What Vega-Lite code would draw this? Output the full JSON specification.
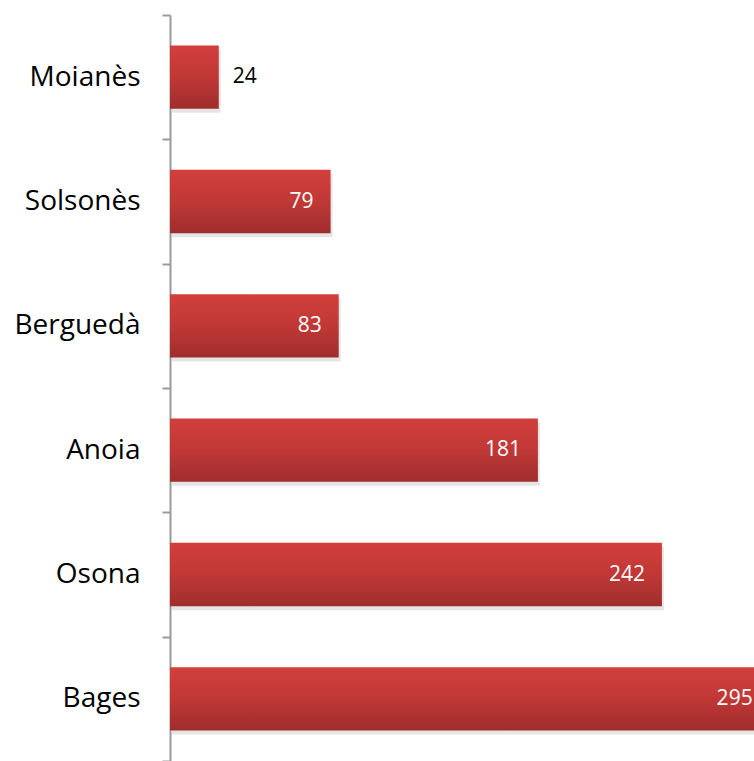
{
  "$schema": "https://vega.github.io/schema/vega-lite/v6.json",
  "autosize": "none",
  "padding": {"left": 170, "top": 15, "right": 0, "bottom": 0},
  "width": 584,
  "height": 746,
  "background": "white",
  "data": {"values": [
    {"comarca": "Moianès", "valor": 24},
    {"comarca": "Solsonès", "valor": 79},
    {"comarca": "Berguedà", "valor": 83},
    {"comarca": "Anoia", "valor": 181},
    {"comarca": "Osona", "valor": 242},
    {"comarca": "Bages", "valor": 295}
  ]},
  "encoding": {
    "y": {"field": "comarca", "type": "nominal", "sort": null,
      "scale": {"paddingInner": 0, "paddingOuter": 0},
      "axis": {"title": null, "tickBand": "extent", "domainColor": "#9a9a9a", "domainWidth": 2,
        "tickColor": "#9a9a9a", "tickWidth": 2, "tickSize": 8, "labelFont": "Open Sans", "labelFontSize": 28,
        "labelColor": "#000000", "labelPadding": 22}},
    "x": {"field": "valor", "type": "quantitative",
      "scale": {"domain": [0, 287.3], "nice": false, "zero": true},
      "axis": null}
  },
  "layer": [
    {"mark": {"type": "bar", "clip": true, "height": {"band": 0.51}, "color": "#000000", "opacity": 0.1, "xOffset": 2, "yOffset": 4}},
    {"mark": {"type": "bar", "clip": true, "height": {"band": 0.51}, "color": {"gradient": "linear", "x1": 0, "y1": 0, "x2": 0, "y2": 1,
      "stops": [{"offset": 0, "color": "#d23f3c"}, {"offset": 0.5, "color": "#c03836"}, {"offset": 1, "color": "#9f2d2d"}]}}},
    {"transform": [{"filter": "datum.valor >= 50"}],
     "mark": {"type": "text", "align": "right", "dx": -17, "color": "white", "font": "Open Sans", "fontSize": 21},
     "encoding": {"text": {"field": "valor"}}},
    {"transform": [{"filter": "datum.valor < 50"}],
     "mark": {"type": "text", "align": "left", "dx": 14, "color": "black", "font": "Open Sans", "fontSize": 21},
     "encoding": {"text": {"field": "valor"}}}
  ],
  "config": {"view": {"stroke": null}}
}
